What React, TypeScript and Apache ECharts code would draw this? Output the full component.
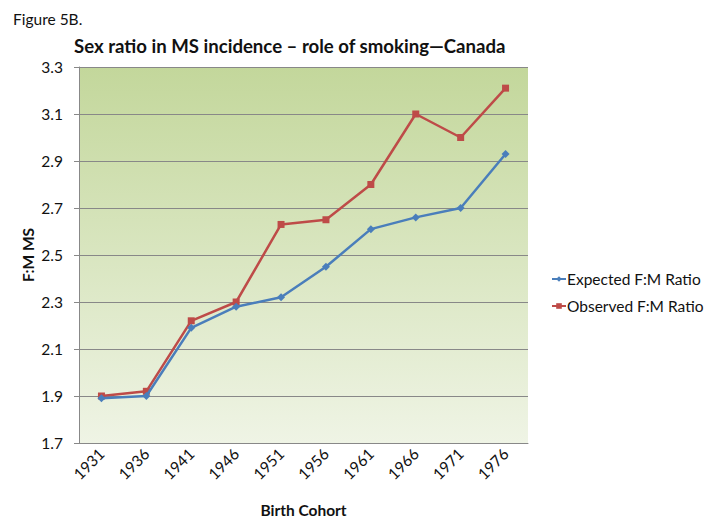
import React, { useEffect, useRef } from "react";
import * as echarts from "echarts";

const cohorts = ["1931", "1936", "1941", "1946", "1951", "1956", "1961", "1966", "1971", "1976"];
const expectedRatio = [1.89, 1.9, 2.19, 2.28, 2.32, 2.45, 2.61, 2.66, 2.7, 2.93];
const observedRatio = [1.9, 1.92, 2.22, 2.3, 2.63, 2.65, 2.8, 3.1, 3.0, 3.21];
const seriesNames = ["Expected F:M Ratio", "Observed F:M Ratio"];
const yMin = 1.7;
const yMax = 3.3;
const yStep = 0.2;

const FONT = "Lato, 'Open Sans', sans-serif";

export default function App() {
  const ref = useRef<HTMLDivElement>(null);
  useEffect(() => {
    document.body.style.margin = "0";
    if (!ref.current) return;
    const chart = echarts.init(ref.current, undefined, { renderer: "svg" });
    chart.setOption({
      animation: false,
      backgroundColor: "#ffffff",
      textStyle: { fontFamily: FONT },
      graphic: [
        {
          type: "text",
          left: 13,
          top: 11,
          style: { text: "Figure 5B.", font: `15.5px ${FONT}`, fill: "#111" },
        },
        {
          type: "text",
          left: 74,
          top: 36,
          style: {
            text: "Sex ratio in MS incidence \u2013 role of smoking\u2014Canada",
            font: `bold 18.6px ${FONT}`,
            fill: "#111",
          },
        },
      ],
      legend: {
        orient: "vertical",
        left: 546,
        top: 266,
        itemWidth: 14,
        itemHeight: 7,
        itemGap: 11,
        textStyle: { fontSize: 15.5, color: "#111", fontFamily: FONT, padding: [0, 0, 0, -4] },
        data: seriesNames,
      },
      grid: {
        left: 79,
        right: 192,
        top: 67,
        bottom: 86,
        show: true,
        borderWidth: 0,
        backgroundColor: {
          type: "linear",
          x: 0,
          y: 0,
          x2: 0,
          y2: 1,
          colorStops: [
            { offset: 0, color: "#c3d79b" },
            { offset: 1, color: "#eff4e5" },
          ],
        },
      },
      xAxis: {
        type: "category",
        data: cohorts,
        boundaryGap: true,
        name: "Birth Cohort",
        nameLocation: "middle",
        nameGap: 59,
        nameMoveOverlap: false,
        nameTextStyle: { fontWeight: "bold", fontSize: 15.5, color: "#111", fontFamily: FONT },
        axisLine: { lineStyle: { color: "#888888", width: 1 } },
        axisTick: { show: false },
        axisLabel: { rotate: 45, margin: 8, fontSize: 15.5, color: "#111", fontFamily: FONT },
      },
      yAxis: {
        type: "value",
        min: yMin,
        max: yMax,
        interval: yStep,
        name: "F:M MS",
        nameLocation: "middle",
        nameGap: 43,
        nameMoveOverlap: false,
        nameTextStyle: { fontWeight: "bold", fontSize: 15.5, color: "#111", fontFamily: FONT },
        axisLine: { show: true, lineStyle: { color: "#888888", width: 1 } },
        axisTick: { show: true, length: 5, lineStyle: { color: "#888888" } },
        axisLabel: {
          margin: 16,
          fontSize: 15.5,
          color: "#111",
          fontFamily: FONT,
          formatter: (v: number) => v.toFixed(1),
        },
        splitLine: { show: true, lineStyle: { color: "#888888", width: 1 } },
      },
      series: [
        {
          name: seriesNames[0],
          type: "line",
          data: expectedRatio,
          symbol: "diamond",
          symbolSize: 8,
          lineStyle: { color: "#4a7ebb", width: 2.5 },
          itemStyle: { color: "#4a7ebb" },
          z: 3,
        },
        {
          name: seriesNames[1],
          type: "line",
          data: observedRatio,
          symbol: "rect",
          symbolSize: 7,
          lineStyle: { color: "#be4b48", width: 2.5 },
          itemStyle: { color: "#be4b48" },
          z: 2,
        },
      ],
    });
    return () => chart.dispose();
  }, []);
  return <div ref={ref} style={{ width: 720, height: 529 }} />;
}
